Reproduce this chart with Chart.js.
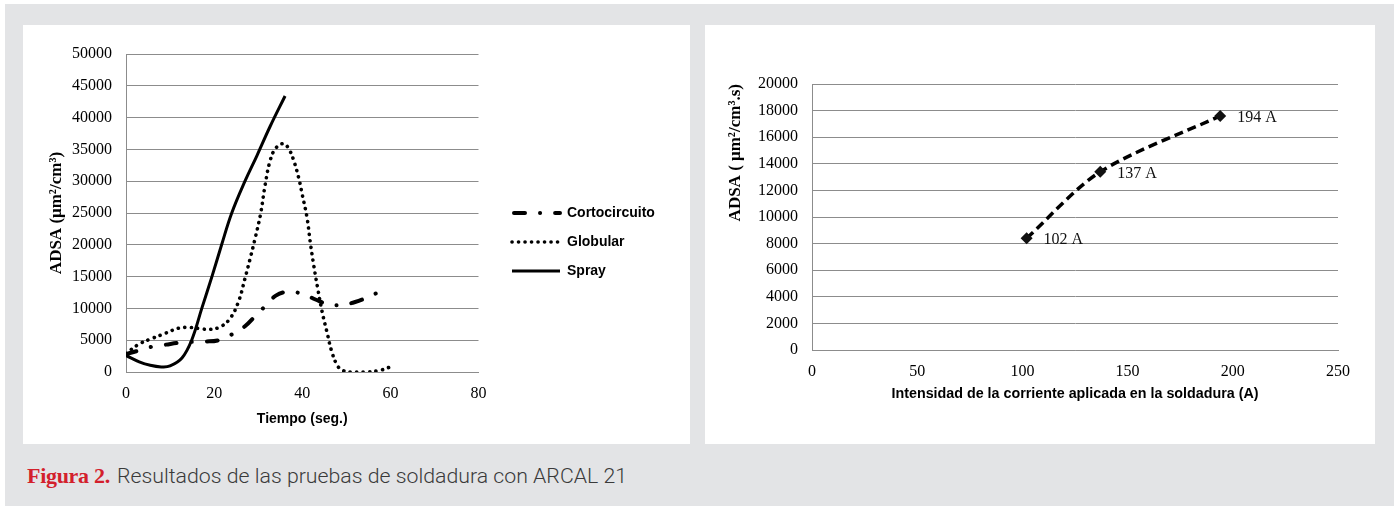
<!DOCTYPE html>
<html>
<head>
<meta charset="utf-8">
<script src="https://cdn.jsdelivr.net/npm/chart.js@4.4.1/dist/chart.umd.min.js"></script>
<style>
  html, body { margin: 0; padding: 0; background: #fff; }
  body { width: 1394px; height: 506px; position: relative; overflow: hidden; }
  #fondo { position: absolute; left: 5px; top: 4px; width: 1389px; height: 502px; background: #e3e4e6; }
  .panel { position: absolute; top: 25px; height: 419px; background: #fff; }
  #panelTiempo { left: 23px; width: 667px; }
  #panelCorriente { left: 705px; width: 670px; }
  canvas { display: block; }
  #pie { position: absolute; left: 27px; top: 463px; display: flex; align-items: baseline; white-space: nowrap; }
  #pieNum { font-family: "Liberation Serif", serif; font-weight: bold; font-size: 22px; color: #d3202c; letter-spacing: -0.3px; }
  #pieTexto { font-family: Roboto, sans-serif; font-weight: 300; font-size: 20px; color: #3a3a3a; margin-left: 7px; display: inline-block; transform-origin: left center; }
</style>
</head>
<body>
<div id="fondo"></div>
<div class="panel" id="panelTiempo"><canvas id="graficoTiempo" width="667" height="419"></canvas></div>
<div class="panel" id="panelCorriente"><canvas id="graficoCorriente" width="670" height="419"></canvas></div>
<div id="pie"><span id="pieNum">Figura 2.</span><span id="pieTexto">Resultados de las pruebas de soldadura con ARCAL 21</span></div>

<script>
// ADSA frente al tiempo para cada modo de transferencia
const nombresModo = ['Cortocircuito', 'Globular', 'Spray'];

const cortoTiempo = [0, 3, 6, 9, 12, 15, 18, 21, 24, 27, 30, 32, 34, 36.5, 40, 43, 46, 49, 52, 55, 58];
const cortoADSA   = [2800, 3400, 4000, 4300, 4600, 4750, 4800, 5000, 5900, 7200, 9300, 10600, 12000, 12600, 12300, 11400, 10600, 10550, 11000, 11800, 12800];

const globTiempo = [0, 3, 6, 9, 12, 14.5, 17, 19, 21.4, 23.6, 25.5, 27, 28.2, 29.3, 30.5, 31.6, 32.7, 34, 35.8, 37, 38, 39.2, 40, 41.1, 41.8, 42.6, 43.5, 44.5, 45.6, 46.7, 47.9, 49, 51, 54.7, 57.7, 59.6];
const globADSA   = [2900, 4400, 5300, 6100, 6900, 7000, 6800, 6700, 7100, 8400, 11000, 14700, 17900, 21000, 24700, 29500, 33200, 35200, 35900, 35000, 33400, 30500, 27900, 24200, 20500, 16800, 13200, 9500, 6300, 3200, 1100, 300, 0, 0, 270, 700];

const sprayTiempo = [0, 3, 5.5, 8, 10, 12.7, 14.9, 17.2, 19.5, 21.7, 24, 27, 29.7, 32.7, 36.1];
const sprayADSA   = [2600, 1600, 1050, 800, 950, 2200, 5000, 10000, 15000, 20000, 25000, 30000, 34000, 38600, 43400];

const ticksTiempo = [0, 20, 40, 60, 80];
const ticksADSATiempo = [0, 5000, 10000, 15000, 20000, 25000, 30000, 35000, 40000, 45000, 50000];

// ADSA frente a la intensidad de corriente
const corriente = [102, 137, 194];
const adsaCorriente = [8400, 13400, 17600];
const etiquetasCorriente = ['102 A', '137 A', '194 A'];
const ticksCorriente = [0, 50, 100, 150, 200, 250];
const ticksADSACorriente = [0, 2000, 4000, 6000, 8000, 10000, 12000, 14000, 16000, 18000, 20000];

const pares = (xs, ys) => xs.map((x, i) => ({ x: x, y: ys[i] }));

const colorRejilla = '#8c8c8c';
const serif = 'Liberation Serif';
const sans = 'Liberation Sans';

function ejeLineal(ticks, extra) {
  return Object.assign({
    type: 'linear',
    min: ticks[0],
    max: ticks[ticks.length - 1],
    afterBuildTicks: s => { s.ticks = ticks.map(v => ({ value: v })); },
    border: { display: true, color: colorRejilla, width: 1 }
  }, extra);
}

// Fija el tamaño de cada eje para situar el área de trazado
function tamEje(ancho, alto) {
  return s => {
    if (ancho !== null) s.width = ancho;
    if (alto !== null) s.height = alto;
    s.paddingLeft = 0; s.paddingRight = 0; s.paddingTop = 0; s.paddingBottom = 0;
  };
}

// Coloca la leyenda en el hueco a la derecha del área de trazado
const posLeyenda = {
  id: 'posLeyenda',
  afterLayout(chart, args, opts) {
    const l = chart.legend;
    if (!l) return;
    const dx = opts.left - l.left;
    const dy = opts.dy || 0;
    l.left += dx;
    l.right = chart.width;
    l.width = l.right - l.left;
    l.top += dy; l.bottom += dy;
  }
};

// Muestras de leyenda con el mismo trazo que cada serie
function muestrasLinea(chart) {
  const items = Chart.defaults.plugins.legend.labels.generateLabels(chart);
  items.forEach(it => {
    const ds = chart.data.datasets[it.datasetIndex];
    it.pointStyle = 'line';
    it.lineDash = ds.borderDash || [];
    it.lineDashOffset = ds.legendDashOffset || 0;
    it.lineWidth = ds.borderWidth;
    it.lineCap = ds.borderCapStyle || 'butt';
    it.strokeStyle = ds.borderColor;
  });
  return items;
}

const fuenteTicks = { family: serif, size: 16 };

new Chart(document.getElementById('graficoTiempo'), {
  type: 'scatter',
  data: {
    datasets: [
      {
        label: nombresModo[0], data: pares(cortoTiempo, cortoADSA), showLine: true,
        borderColor: '#000', backgroundColor: '#000', borderWidth: 4,
        borderDash: [11, 15, 0.1, 15], borderCapStyle: 'round', tension: 0.4, pointRadius: 0,
        legendDashOffset: -2
      },
      {
        label: nombresModo[1], data: pares(globTiempo, globADSA), showLine: true,
        borderColor: '#000', backgroundColor: '#000', borderWidth: 3.6,
        borderDash: [0.1, 6.4], borderCapStyle: 'round', tension: 0.4, pointRadius: 0
      },
      {
        label: nombresModo[2], data: pares(sprayTiempo, sprayADSA), showLine: true,
        borderColor: '#000', backgroundColor: '#000', borderWidth: 3,
        borderCapStyle: 'butt', tension: 0.4, pointRadius: 0
      }
    ]
  },
  options: {
    responsive: false,
    animation: false,
    layout: { padding: { left: 19, top: 29, right: 66, bottom: 0 } },
    plugins: {
      tooltip: { enabled: false },
      posLeyenda: { left: 474, dy: -7 },
      legend: {
        position: 'right',
        labels: {
          usePointStyle: true, pointStyle: 'line', pointStyleWidth: 48,
          padding: 15, color: '#000',
          font: { family: sans, size: 14, weight: 'bold' },
          generateLabels: muestrasLinea
        }
      }
    },
    scales: {
      x: ejeLineal(ticksTiempo, {
        grid: { display: false },
        ticks: { color: '#000', font: fuenteTicks, padding: 4, maxRotation: 0, callback: v => String(v) },
        title: { display: true, text: 'Tiempo (seg.)', color: '#000', font: { family: sans, size: 14, weight: 'bold' }, padding: { top: 4, bottom: 16 } },
        afterFit: tamEje(null, 72)
      }),
      y: ejeLineal(ticksADSATiempo, {
        grid: { color: colorRejilla, lineWidth: 1, drawTicks: false },
        ticks: { color: '#000', font: fuenteTicks, padding: 14, callback: v => String(v) },
        title: { display: true, text: 'ADSA (μm²/cm³)', color: '#000', font: { family: serif, size: 17, weight: 'bold' }, padding: { top: 4, bottom: 4 } },
        afterFit: tamEje(84, null)
      })
    }
  },
  plugins: [posLeyenda]
});

// Rótulos de intensidad junto a cada punto
const rotulosPuntos = {
  id: 'rotulosPuntos',
  afterDatasetsDraw(chart) {
    const ctx = chart.ctx;
    const meta = chart.getDatasetMeta(0);
    ctx.save();
    ctx.fillStyle = '#111';
    ctx.font = '16px "Liberation Serif"';
    ctx.textBaseline = 'middle';
    ctx.textAlign = 'left';
    meta.data.forEach((p, i) => {
      ctx.fillText(etiquetasCorriente[i], p.x + 17, p.y + 2);
    });
    ctx.restore();
  }
};

new Chart(document.getElementById('graficoCorriente'), {
  type: 'scatter',
  data: {
    datasets: [{
      label: 'ADSA', data: pares(corriente, adsaCorriente), showLine: true,
      borderColor: '#000', backgroundColor: '#000', borderWidth: 3.5,
      borderDash: [9, 5], tension: 0.3,
      pointStyle: 'rectRot', pointRadius: 6, pointBackgroundColor: '#111', pointBorderColor: '#111', pointBorderWidth: 0
    }]
  },
  options: {
    responsive: false,
    animation: false,
    layout: { padding: { left: 16, top: 59, right: 37, bottom: 0 } },
    plugins: { legend: { display: false }, tooltip: { enabled: false } },
    scales: {
      x: ejeLineal(ticksCorriente, {
        grid: { display: false },
        ticks: { color: '#000', font: fuenteTicks, padding: 4, maxRotation: 0, callback: v => String(v) },
        title: { display: true, text: 'Intensidad de la corriente aplicada en la soldadura (A)', color: '#000', font: { family: sans, size: 14.3, weight: 'bold' }, padding: { top: 4, bottom: 41 } },
        afterFit: tamEje(null, 94)
      }),
      y: ejeLineal(ticksADSACorriente, {
        grid: { color: colorRejilla, lineWidth: 1, drawTicks: false },
        ticks: { color: '#000', font: fuenteTicks, padding: 14, callback: v => String(v) },
        title: { display: true, align: 'end', text: 'ADSA ( μm²/cm³.s)', color: '#000', font: { family: serif, size: 17, weight: 'bold' }, padding: { top: 4, bottom: 4 } },
        afterFit: tamEje(91, null)
      })
    }
  },
  plugins: [rotulosPuntos]
});

// Ajuste del ancho del pie de figura
const pieTexto = document.getElementById('pieTexto');
const anchoPie = pieTexto.getBoundingClientRect().width;
pieTexto.style.transform = 'scaleX(' + (510 / anchoPie) + ')';
</script>
</body>
</html>
